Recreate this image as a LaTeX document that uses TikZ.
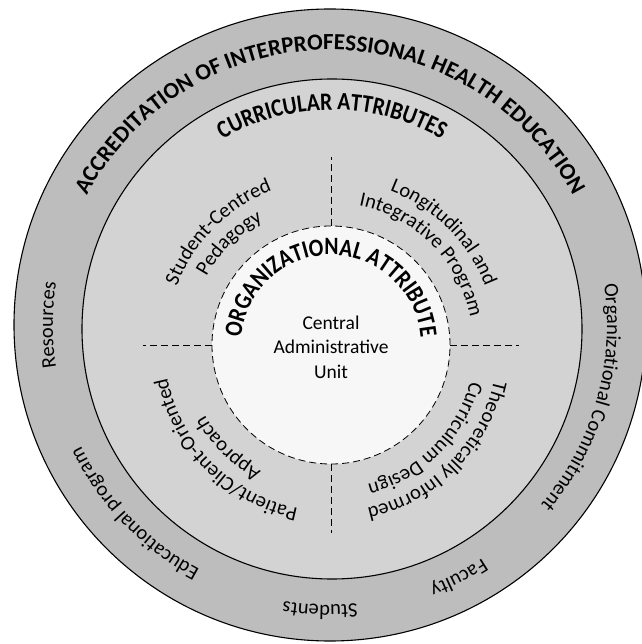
\documentclass[tikz,border=0pt]{standalone}
\usepackage{fontspec}
\setmainfont{Carlito}
\newfontfamily\narrowfamily[FakeStretch=0.86]{Carlito}
\usepackage{tikz}
\usetikzlibrary{decorations.text}
\definecolor{ringgrey}{HTML}{BDBDBD}
\definecolor{currgrey}{HTML}{D3D3D3}
\definecolor{corewhite}{HTML}{F7F7F7}
\newcommand\titlefont{\fontsize{23}{27}\selectfont\bfseries}
\newcommand\innertitlefont{\narrowfamily\fontsize{25}{29}\selectfont\bfseries}
\newcommand\labelfont{\fontsize{20.5}{24}\selectfont}
\newcommand\unitfont{\fontsize{19.5}{24.5}\selectfont}

\begin{document}
\begin{tikzpicture}[x=1pt,y=1pt,
  arctext/.style={decorate,decoration={text along path,text align=center,text={#1}}},
  ring/.style={line width=1.1pt},
  divider/.style={line width=0.8pt,dash pattern=on 7pt off 4pt}]
  \useasboundingbox (-330,-319) rectangle (311,325);
  \fill[white] (-330,-319) rectangle (311,325);
  \coordinate (core) at (1,-20);
  % rings
  \filldraw[ring,fill=ringgrey] (0,0) circle[radius=316];
  \filldraw[ring,fill=currgrey] (2,-4) circle[radius=250];
  \filldraw[divider,fill=corewhite] (core) circle[radius=119];
  % outer ring
  \path[arctext={|\titlefont|ACCREDITATION OF INTERPROFESSIONAL HEALTH EDUCATION}]
    (165:275) arc[start angle=165,end angle=15,radius=275];
  \path[arctext={|\labelfont|Resources}] (240:277) arc[start angle=240,end angle=120,radius=277];
  \path[arctext={|\labelfont|Organizational Commitment}] (44:277) arc[start angle=44,end angle=-76,radius=277];
  \path[arctext={|\labelfont|Faculty}] (-3:279) arc[start angle=-3,end angle=-123,radius=279];
  \path[arctext={|\labelfont|Students}] (-32:280) arc[start angle=-32,end angle=-152,radius=280];
  \path[arctext={|\labelfont|Educational program}] (-76:277) arc[start angle=-76,end angle=-196,radius=277];
  % curricular attributes
  \path[shift={(2,-4)},arctext={|\innertitlefont|CURRICULAR ATTRIBUTES}]
    (150:219) arc[start angle=150,end angle=30,radius=219];
  \begin{scope}[shift={(core)}]
    \foreach \a in {0,90,180,270}
      \draw[divider] (\a:119) -- (\a:188);
    \path[arctext={|\labelfont|Student-Centred}] (195:165) arc[start angle=195,end angle=75,radius=165];
    \path[arctext={|\labelfont|Pedagogy}] (195:142) arc[start angle=195,end angle=75,radius=142];
    \path[arctext={|\labelfont|Longitudinal and}] (105:165) arc[start angle=105,end angle=-15,radius=165];
    \path[arctext={|\labelfont|Integrative Program}] (105:142) arc[start angle=105,end angle=-15,radius=142];
    \path[arctext={|\labelfont|Theoretically Informed}] (15:167) arc[start angle=15,end angle=-105,radius=167];
    \path[arctext={|\labelfont|Curriculum Design}] (15:144) arc[start angle=15,end angle=-105,radius=144];
    \path[arctext={|\labelfont|Patient/Client-Oriented}] (-75:167) arc[start angle=-75,end angle=-195,radius=167];
    \path[arctext={|\labelfont|Approach}] (-75:144) arc[start angle=-75,end angle=-195,radius=144];
    % organizational attribute
    \path[arctext={|\innertitlefont|ORGANIZATIONAL ATTRIBUTE}] (190:90) arc[start angle=190,end angle=-10,radius=90];
  \end{scope}
  \node[font=\unitfont,align=center] (unit) at (1,-22) {Central\\Administrative\\Unit};
\end{tikzpicture}
\end{document}
